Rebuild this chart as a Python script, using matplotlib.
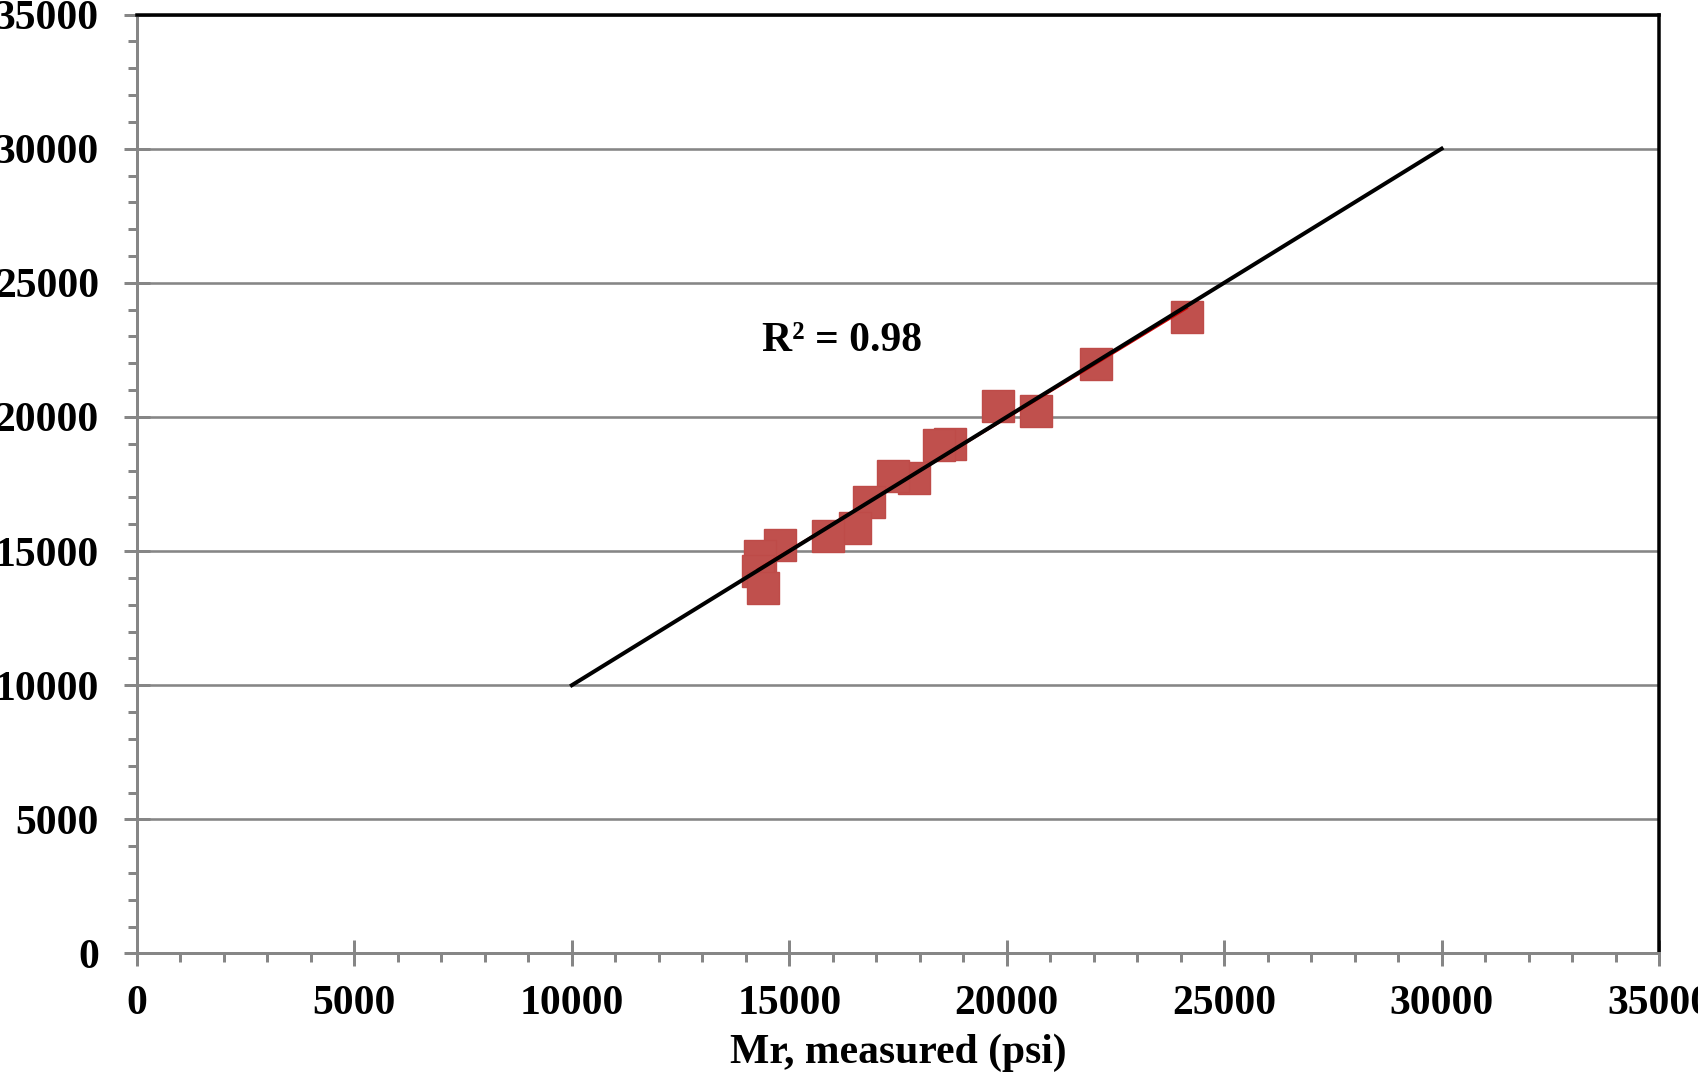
import matplotlib
matplotlib.use('Agg')
import matplotlib.pyplot as plt
import numpy as np
from matplotlib.ticker import MultipleLocator

# measured vs predicted resilient modulus (psi)
mr_measured = [24142, 22049, 19795, 20669, 18698, 18445, 17870, 17395,
               16835, 16513, 15885, 14788, 14328, 14275, 14405]
mr_predicted = [23724, 21970, 20403, 20216, 19000, 18948, 17731, 17817,
                16822, 15866, 15578, 15243, 14806, 14246, 13627]
equality_x = [10000, 30000]
equality_y = [10000, 30000]
r2_label = 'R\u00b2 = 0.98'
x_label = 'Mr, measured (psi)'

plt.rcParams['font.family'] = ['Liberation Serif', 'DejaVu Serif']
plt.rcParams['font.weight'] = 'bold'

px = 0.72  # points per pixel at dpi 100
gray = '#868686'

fig = plt.figure(figsize=(16.99, 10.78), dpi=100)
ax = fig.add_axes([0.0806, 0.1155, 0.8959, 0.871])

ax.plot(mr_measured, mr_predicted, 's', color='#C0504D', mec='#BE4B48',
        markersize=32 * px, zorder=3, clip_on=False)

# linear trend of the points
k, b = np.polyfit(mr_measured, mr_predicted, 1)
xs = np.array([min(mr_measured), max(mr_measured)])
ax.plot(xs, k * xs + b, color='#D00000', lw=2.5 * px, zorder=4)

# line of equality
ax.plot(equality_x, equality_y, color='black', lw=4 * px, zorder=5)

ax.text(14375, 22817, r2_label, fontsize=30, fontweight='bold',
        va='center', ha='left')

ax.set_xlim(0, 35000)
ax.set_ylim(0, 35000)
ax.xaxis.set_major_locator(MultipleLocator(5000))
ax.yaxis.set_major_locator(MultipleLocator(5000))
ax.xaxis.set_minor_locator(MultipleLocator(1000))
ax.yaxis.set_minor_locator(MultipleLocator(1000))

ax.grid(axis='y', which='major', color=gray, lw=2.6 * px, zorder=1)
ax.set_axisbelow(True)

for s in ['left', 'bottom']:
    ax.spines[s].set_color(gray)
    ax.spines[s].set_linewidth(3 * px)
for s in ['top', 'right']:
    ax.spines[s].set_color('black')
    ax.spines[s].set_linewidth(3.5 * px)
ax.spines['bottom'].set_zorder(6)

ax.tick_params(which='major', direction='inout', length=26 * px,
               width=3 * px, color=gray, labelsize=30, pad=13)
ax.tick_params(which='minor', direction='out', length=9 * px,
               width=3 * px, color=gray)
ax.tick_params(axis='y', which='major', pad=18)
for lab in ax.get_xticklabels() + ax.get_yticklabels():
    lab.set_fontweight('bold')

ax.set_xlabel(x_label, fontsize=30, fontweight='bold', labelpad=8)

fig.savefig('out.png', dpi=100)
